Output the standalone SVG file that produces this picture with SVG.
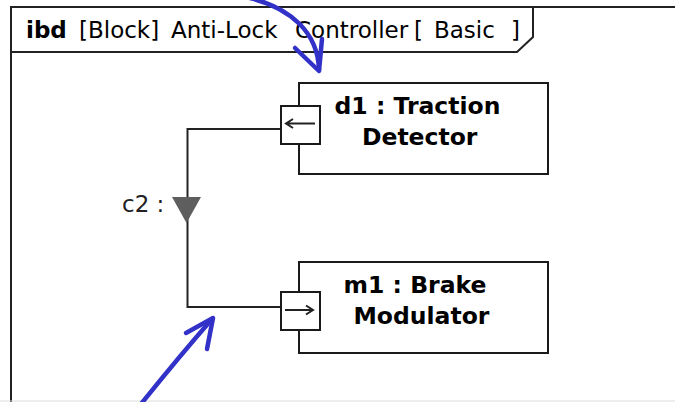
<svg xmlns="http://www.w3.org/2000/svg" width="675" height="402" viewBox="0 0 675 402">
<style>
.frame{fill:none;stroke:#222;stroke-width:2}
.box{fill:#fff;stroke:#1a1a1a;stroke-width:2}
.conn{fill:none;stroke:#222;stroke-width:2}
.title{font-family:"DejaVu Sans",sans-serif;font-size:23px;fill:#000}
.lbl{font-family:"DejaVu Sans",sans-serif;font-size:23.5px;font-weight:bold;fill:#000;text-anchor:middle}
.clbl{font-family:"DejaVu Sans",sans-serif;font-size:23px;fill:#222}
.ann{fill:none;stroke:#3232c8;stroke-width:4.5;stroke-linecap:round;stroke-linejoin:round}
</style>
<rect x="0" y="0" width="675" height="402" fill="#fff"/>
<g id="frame">
<path class="frame" d="M11 410 V7 H680"/>
<path class="frame" d="M11 52 H517 L533 37 V7"/>
<text class="title" y="38"><tspan x="26" font-weight="bold">ibd</tspan><tspan x="79">[Block]</tspan><tspan x="171">Anti-Lock</tspan><tspan x="295">Controller</tspan><tspan x="414">[</tspan><tspan x="434">Basic</tspan><tspan x="511">]</tspan></text>
</g>
<line x1="0" y1="401" x2="675" y2="401" stroke="#dcdcdc" stroke-width="1"/>
<g id="connectors">
<path class="conn" d="M281 129 H187.5 V307 H281"/>
<polygon points="172,197 201,197 186.5,223" fill="#5e5e5e"/>
<text class="clbl" x="122" y="212">c2 :</text>
</g>
<g id="d1">
<rect class="box" x="299" y="83" width="249" height="91"/>
<text class="lbl" x="417.5" y="114">d1 : Traction</text>
<text class="lbl" x="419.7" y="145">Detector</text>
<g id="d1-port">
<rect class="box" x="281" y="106" width="39" height="38"/>
<path class="conn" d="M315 123.5 H286 M293 119 L286 123.5 L293 128"/>
</g>
</g>
<g id="m1">
<rect class="box" x="299" y="262" width="249" height="91"/>
<text class="lbl" x="415" y="293">m1 : Brake</text>
<text class="lbl" x="421.4" y="324">Modulator</text>
<g id="m1-port">
<rect class="box" x="281" y="292" width="39" height="38"/>
<path class="conn" d="M285 310 H313 M306 305.5 L313 310 L306 314.5"/>
</g>
</g>
<g id="annotations">
<path class="ann" d="M250 -2 C290 8, 318 32, 319 70"/>
<path class="ann" d="M295 48 L319 71 L322 39"/>
<path class="ann" d="M141 404 Q178 358 212 319"/>
<path class="ann" d="M186 333 L213 318 L207 349"/>
</g>
</svg>
